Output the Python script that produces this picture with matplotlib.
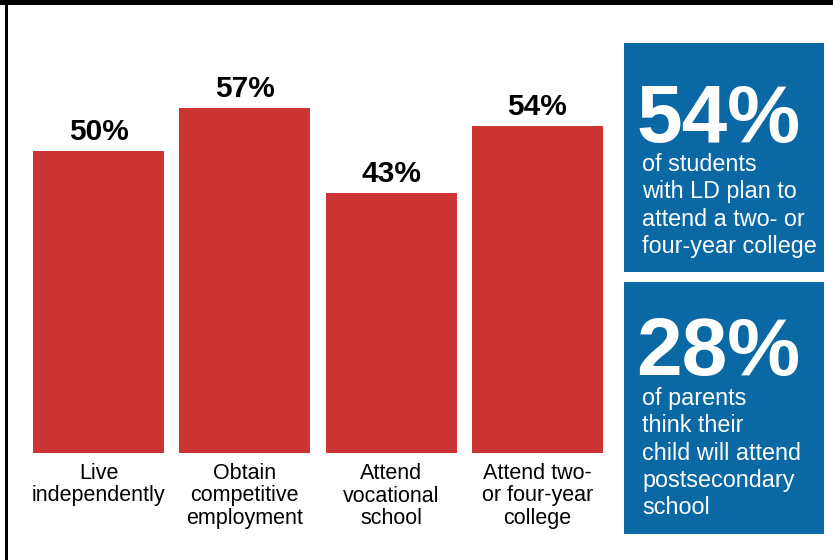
import numpy as np
import matplotlib
matplotlib.use("Agg")
from matplotlib import pyplot as plt
from matplotlib.patches import Rectangle

plt.rcParams['font.family'] = ['Liberation Sans', 'DejaVu Sans']

# data
categories = ["Live\nindependently", "Obtain\ncompetitive\nemployment",
              "Attend\nvocational\nschool", "Attend two-\nor four-year\ncollege"]
values = [50, 57, 43, 54]

callout_numbers = ["54%", "28%"]
callout_texts = ["of students\nwith LD plan to\nattend a two- or\nfour-year college",
                 "of parents\nthink their\nchild will attend\npostsecondary\nschool"]

RED = '#cc3434'
BLUE = '#0a69a4'

W, H = 833, 560
fig = plt.figure(figsize=(W / 100, H / 100), dpi=100)

# pixel overlay for frame + callout boxes
bg = fig.add_axes([0, 0, 1, 1])
bg.set_xlim(0, W)
bg.set_ylim(H, 0)
bg.axis('off')
bg.add_patch(Rectangle((0, 0), W, 5, color='black', lw=0))
bg.add_patch(Rectangle((5, 0), 3, H, color='black', lw=0))

# bar chart axes (pixel placement)
left_px, right_px = 25.3, 610.6
base_px, top_px = 453, 90
ax = fig.add_axes([left_px / W, (H - base_px) / H,
                   (right_px - left_px) / W, (base_px - top_px) / H])
ax.set_xlim(-0.5, 3.5)
ax.set_ylim(0, 60)
ax.axis('off')

x = np.arange(len(values))
bars = ax.bar(x, values, width=0.895, color=RED)

for xi, v in zip(x, values):
    ax.annotate(f"{v}%", xy=(xi, v), xytext=(0, 11), textcoords='offset pixels',
                ha='center', va='baseline', fontsize=21.5, fontweight='bold')

for xi, lab in zip(x, categories):
    for k, line in enumerate(lab.split("\n")):
        ax.annotate(line, xy=(xi, 0), xytext=(0, -26 - 22.5 * k),
                    textcoords='offset pixels', ha='center', va='baseline',
                    fontsize=15.5, annotation_clip=False)

# callout boxes
boxes = [(43, 272, 142, 171), (282, 534, 375, 405)]
for (y0, y1, num_base, txt_base), num, txt in zip(boxes, callout_numbers, callout_texts):
    bg.add_patch(Rectangle((624, y0), 824 - 624, y1 - y0, color=BLUE, lw=0))
    bg.text(636, num_base, num, color='white', fontsize=59, fontweight='bold',
            ha='left', va='baseline')
    for k, line in enumerate(txt.split("\n")):
        bg.text(642, txt_base + 27.3 * k, line, color='white', fontsize=16.8,
                ha='left', va='baseline')

fig.savefig('out.png', dpi=100)
